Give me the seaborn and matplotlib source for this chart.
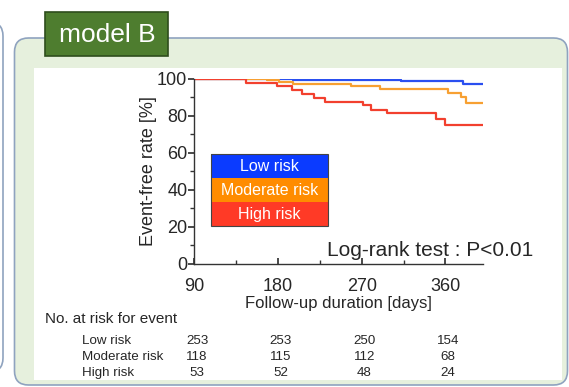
import numpy as np
import pandas as pd
import matplotlib
matplotlib.use("Agg")
import matplotlib.pyplot as plt
import matplotlib.transforms as mtransforms
from matplotlib.patches import FancyBboxPatch, Rectangle
from matplotlib.ticker import MultipleLocator
import seaborn as sns

# Kaplan-Meier steps (day, event-free %)
low_t = [90, 150, 196, 312, 379]
low_s = [100, 99.6, 99.2, 98.8, 97.0]
mod_t = [90, 168, 181, 196, 258, 290, 363, 377, 382]
mod_s = [100, 99.0, 97.9, 96.8, 95.9, 94.3, 92.4, 90.2, 86.9]
high_t = [90, 146, 179, 195, 206, 219, 231, 271, 280, 297, 350, 360]
high_s = [100, 97.7, 95.7, 93.6, 91.5, 89.4, 87.4, 85.5, 83.2, 81.4, 78.3, 74.7]
end_day = 400

groups = ["Low risk", "Moderate risk", "High risk"]
line_colors = ["#2a4ff0", "#f7a032", "#f2402e"]
legend_colors = ["#0b3bff", "#ff8c00", "#ff3a26"]

risk_days = [90, 180, 270, 360]
at_risk_low = [253, 253, 250, 154]
at_risk_mod = [118, 115, 112, 68]
at_risk_high = [53, 52, 48, 24]

rows = []
for g, t, s in zip(groups, [low_t, mod_t, high_t], [low_s, mod_s, high_s]):
    for d, v in zip(t + [end_day], s + [s[-1]]):
        rows.append({"group": g, "day": d, "rate": v})
df = pd.DataFrame(rows)

sns.set_theme(style="ticks")
plt.rcParams["font.family"] = ["Liberation Sans", "DejaVu Sans"]

W, H = 569, 387
fig = plt.figure(figsize=(W / 100, H / 100), dpi=100)

# background layer in pixel coordinates
bg = fig.add_axes([0, 0, 1, 1], zorder=0)
bg.set_xlim(0, W)
bg.set_ylim(H, 0)
bg.axis("off")

bg.add_patch(FancyBboxPatch((-300, 22), 303, 350, boxstyle="round,pad=0,rounding_size=14",
                            fc="none", ec="#8fa3bf", lw=1.2))
bg.add_patch(FancyBboxPatch((14.5, 38), 553, 347, boxstyle="round,pad=0,rounding_size=14",
                            fc="#e6f0dd", ec="#8fa3bf", lw=1.2))
bg.add_patch(Rectangle((34, 68), 528, 312, fc="white", ec="none"))
bg.add_patch(Rectangle((45, 12), 123, 44, fc="#4e7d2f", ec="#2e4d1c", lw=1.2))
bg.text(107, 35, "model B", color="white", fontsize=19, ha="center", va="center")

# main plot
x0, x1, y0, y1 = 194.3, 482.6, 264, 78.5
ax = fig.add_axes([x0 / W, 1 - y0 / H, (x1 - x0) / W, (y0 - y1) / H], zorder=1)
ax.set_facecolor("none")

sns.lineplot(data=df, x="day", y="rate", hue="group", hue_order=groups,
             palette=line_colors, drawstyle="steps-post", estimator=None,
             linewidth=1.6, legend=False, ax=ax)

ax.set_xlim(90, end_day)
ax.set_ylim(0, 100)
ax.set_xticks(risk_days)
ax.xaxis.set_minor_locator(MultipleLocator(45))
ax.yaxis.set_major_locator(MultipleLocator(20))
ax.yaxis.set_minor_locator(MultipleLocator(10))
ax.tick_params(axis="x", which="both", direction="in", labelsize=13, pad=10, color="#333333")
ax.tick_params(axis="x", which="major", length=4)
ax.tick_params(axis="x", which="minor", length=3)
ax.tick_params(axis="y", which="both", direction="out", labelsize=13, pad=1, color="#333333")
ax.tick_params(axis="y", which="major", length=4)
ax.tick_params(axis="y", which="minor", length=3)
for side in ["top", "right"]:
    ax.spines[side].set_visible(False)
for side in ["left", "bottom"]:
    ax.spines[side].set_color("#333333")
    ax.spines[side].set_linewidth(1.0)
ax.set_xlabel("Follow-up duration [days]", fontsize=12, labelpad=1)
ax.set_ylabel("Event-free rate [%]", fontsize=13, labelpad=0)

# coloured legend box
lx, lw_, ly, lh = 0.058, 0.406, 0.205, 0.129
for i, (g, c) in enumerate(zip(groups, legend_colors)):
    yb = ly + (2 - i) * lh
    ax.add_patch(Rectangle((lx, yb), lw_, lh, transform=ax.transAxes, fc=c, ec="none", zorder=5))
    ax.text(lx + lw_ / 2, yb + lh / 2, g, transform=ax.transAxes, color="white",
            fontsize=11.5, ha="center", va="center", zorder=6)
ax.add_patch(Rectangle((lx, ly), lw_, 3 * lh, transform=ax.transAxes, fc="none",
                       ec="#444444", lw=0.8, zorder=7))

bg.text(533, 250, "Log-rank test : P<0.01", fontsize=15, ha="right", va="center")

# number at risk table
bg.text(45, 319, "No. at risk for event", fontsize=11, ha="left", va="center")
trans = mtransforms.blended_transform_factory(ax.transData, bg.transData)
for g, vals, yy in zip(groups, [at_risk_low, at_risk_mod, at_risk_high], [341, 357, 373]):
    bg.text(82, yy, g, fontsize=9.6, ha="left", va="center")
    for d, v in zip(risk_days, vals):
        bg.text(d + 3, yy, str(v), fontsize=9.6, ha="center", va="center", transform=trans)

fig.savefig("out.png", dpi=100)
